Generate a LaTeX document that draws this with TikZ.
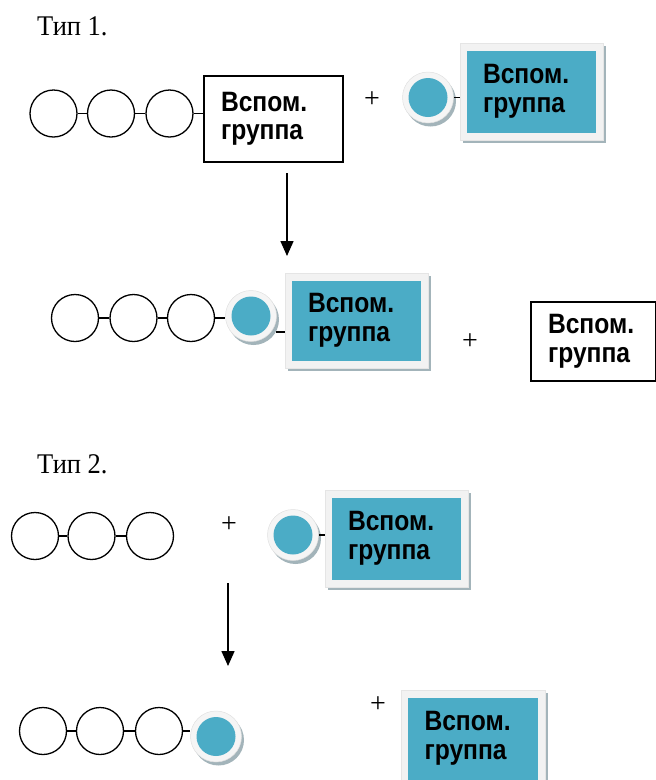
\documentclass[tikz,border=0pt]{standalone}
\usepackage{fontspec}
\setmainfont{Liberation Serif}
\newfontfamily\grp[FakeStretch=0.88]{Liberation Sans}
\newfontfamily\tipf[FakeStretch=0.93]{Liberation Serif}
\usetikzlibrary{arrows.meta,shadows}
\definecolor{tealc}{HTML}{4BACC6}
\definecolor{framec}{HTML}{F2F2F2}
\definecolor{shadowc}{HTML}{A3B4BA}
\definecolor{ringc}{HTML}{F5F5F5}
\begin{document}
\begin{tikzpicture}[x=1pt,y=-1pt,
  atom/.style={circle,draw=black,line width=1.3pt,minimum size=47pt,inner sep=0pt},
  bond/.style={line width=1.2pt},
  lbl/.style={font=\grp\bfseries\fontsize{28}{28.5}\selectfont,align=left},
  wbox/.style={lbl,rectangle,draw=black,line width=1.3pt,inner sep=0pt},
  tbox/.style={lbl,rectangle,fill=framec,draw=black!10,line width=0.5pt,inner sep=0pt,
    inner xsep=23pt,minimum height=97pt,text width=97pt,
    drop shadow={shadow xshift=3pt,shadow yshift=-3pt,fill=shadowc,opacity=1},
    path picture={\fill[tealc] ([xshift=6.5pt,yshift=-7.5pt]path picture bounding box.north west)
      rectangle ([xshift=-7pt,yshift=7.5pt]path picture bounding box.south east);}},
  ball/.style={circle,fill=ringc,draw=black!12,line width=0.5pt,minimum size=51pt,inner sep=0pt,
    drop shadow={shadow xshift=2.5pt,shadow yshift=-3.5pt,fill=shadowc,opacity=1},
    path picture={\fill[tealc] (path picture bounding box.center) circle[radius=19.5pt];}},
  plus/.style={font=\fontsize{28}{28}\selectfont,inner sep=0pt},
  tip/.style={font=\tipf\fontsize{28.5}{30}\selectfont,anchor=base west,inner sep=0pt},
  arr/.style={line width=1.5pt,-{Triangle[width=13pt,length=15pt]}}
]
\useasboundingbox (0,0) rectangle (656,780);
\clip (0,0) rectangle (656,780);

% ---------- Type 1 ----------
\node[tip] (tip1) at (37,35) {Тип 1.};

\node[atom] (a1) at (53.5,113.5) {};
\node[atom] (a2) at (111,113.5) {};
\node[atom] (a3) at (169.5,113.5) {};
\node[wbox,minimum width=139pt,minimum height=86pt,inner xsep=17pt,text width=105pt] (W1) at (273.5,119) {Вспом.\\группа};
\draw[bond] (a1) -- (a2);
\draw[bond] (a2) -- (a3);
\draw[bond] (a3.east) -- (a3.east -| W1.west);

\node[plus] (p1) at (372,100) {+};
\node[ball] (T1) at (428,97.5) {};
\node[tbox,minimum width=143pt] (B1) at (531.5,91.5) {Вспом.\\группа};
\draw[bond] (T1.east) -- (T1.east -| B1.west);

\coordinate (arA1) at (287,173);
\coordinate (arA2) at (287,256);
\draw[arr] (arA1) -- (arA2);

\node[atom] (b1) at (75,318) {};
\node[atom] (b2) at (133.5,318) {};
\node[atom] (b3) at (191,318) {};
\node[ball] (T2) at (251,316) {};
\node[tbox,minimum width=143pt,minimum height=95pt] (B2) at (356.5,320.5) {Вспом.\\группа};
\draw[bond] (b1) -- (b2);
\draw[bond] (b2) -- (b3);
\draw[bond] (b3.east) -- (b3.east -| T2.west);
\coordinate (lowb) at ([xshift=25pt,yshift=-16pt]T2.center);
\draw[bond] (lowb) -- (lowb -| B2.west);

\node[plus] (p2) at (470,342) {+};
\node[wbox,minimum width=125pt,minimum height=79pt,inner xsep=17pt,text width=91pt] (W2) at (593.5,341.5) {Вспом.\\группа};

% ---------- Type 2 ----------
\node[tip] (tip2) at (37,473) {Тип 2.};

\node[atom] (c1) at (35,536) {};
\node[atom] (c2) at (91.5,536) {};
\node[atom] (c3) at (150,536) {};
\draw[bond] (c1) -- (c2);
\draw[bond] (c2) -- (c3);

\node[plus] (p3) at (229,525) {+};
\node[ball] (T3) at (293,535) {};
\node[tbox,minimum width=143pt] (B3) at (396.5,538.5) {Вспом.\\группа};
\draw[bond] (T3.east) -- (T3.east -| B3.west);

\coordinate (arB1) at (228,583);
\coordinate (arB2) at (228,666);
\draw[arr] (arB1) -- (arB2);

\node[atom] (d1) at (43,731) {};
\node[atom] (d2) at (100,731) {};
\node[atom] (d3) at (159,731) {};
\node[ball] (T4) at (216,736.5) {};
\draw[bond] (d1) -- (d2);
\draw[bond] (d2) -- (d3);
\draw[bond] (d3.east) -- (d3.east -| T4.west);

\node[plus] (p4) at (378,705) {+};
\node[tbox,minimum width=144pt] (B4) at (473,738.5) {Вспом.\\группа};
\end{tikzpicture}
\end{document}
